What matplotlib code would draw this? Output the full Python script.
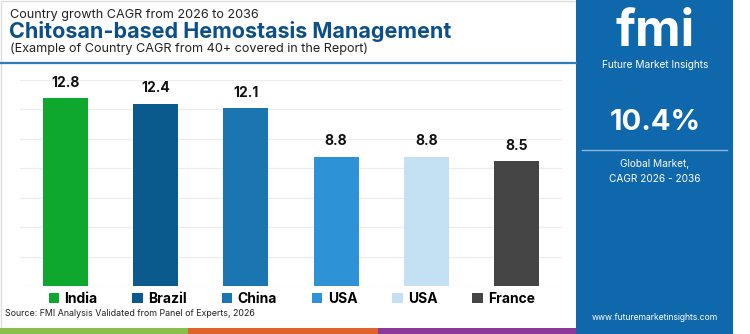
import matplotlib
matplotlib.use("Agg")
import matplotlib.pyplot as plt
from matplotlib.patches import Rectangle
from matplotlib.lines import Line2D

plt.rcParams["font.family"] = ["Inter", "DejaVu Sans"]

paises = ["India", "Brazil", "China", "USA", "USA", "France"]
cagr = [12.8, 12.4, 12.1, 8.8, 8.8, 8.5]
cores = ["#0FA82F", "#0B5A8E", "#1B75B0", "#2E93D6", "#C4E0F3", "#454545"]
ticks_y = [0, 2, 4, 6, 8, 10, 12, 14]

W, H = 750, 334


def fx(px):
    return px / W


def fy(py):
    return 1 - py / H


def fundo(fig):
    # borda clara da area do grafico
    fig.patches.append(Rectangle((fx(1), fy(333)), fx(575), 332 / H, transform=fig.transFigure,
                                 facecolor="white", edgecolor="#DDDDDD", lw=1, zorder=-2))
    # linha azul abaixo do titulo
    fig.add_artist(Line2D([0, fx(576)], [fy(63), fy(63)], color="#2F7DBB", lw=1.6))
    # painel azul da direita
    fig.patches.append(Rectangle((fx(576), 0), fx(157), 1, transform=fig.transFigure,
                                 facecolor="#0F67AC", edgecolor="none", zorder=1))
    # faixa colorida de baixo
    for x0, x1, c in [(0, 188, "#8BBE4B"), (188, 378, "#E0622D"), (378, 576, "#8C3A98")]:
        fig.patches.append(Rectangle((fx(x0), 0), fx(x1 - x0), 6 / H, transform=fig.transFigure,
                                     facecolor=c, edgecolor="none", zorder=2))


def textos(fig):
    fig.text(fx(10), fy(15), "Country growth CAGR from 2026 to 2036", fontsize=9.1,
             color="#222222", va="center")
    fig.text(fx(9), fy(32), "Chitosan-based Hemostasis Management", fontsize=15.5,
             fontweight="bold", color="#0C4F8A", va="center")
    fig.text(fx(10), fy(49), "(Example of Country CAGR from 40+ covered in the Report)",
             fontsize=9.1, color="#222222", va="center")
    fig.text(fx(5), fy(314), "Source: FMI Analysis Validated from Panel of Experts, 2026",
             fontsize=6.4, color="#222222", va="center")

    cx = fx(655)
    fig.text(cx, fy(32), "fmi", fontsize=36, fontweight="bold", color="white",
             ha="center", va="center", zorder=3)
    fig.text(cx, fy(65), "Future Market Insights", fontsize=7.3, color="white",
             ha="center", va="center", zorder=3)
    fig.text(cx, fy(122), "10.4%", fontsize=21, fontweight="bold", color="white",
             ha="center", va="center", zorder=3)
    fig.add_artist(Line2D([fx(582), fx(727)], [fy(150), fy(150)], color="#8DB8DE", lw=1, zorder=3))
    fig.text(cx, fy(164), "Global Market,", fontsize=7.3, color="white",
             ha="center", va="center", zorder=3)
    fig.text(cx, fy(179), "CAGR 2026 - 2036", fontsize=7.3, color="white",
             ha="center", va="center", zorder=3)
    fig.text(cx, fy(318), "www.futuremarketinsights.com", fontsize=6.2, color="white",
             ha="center", va="center", zorder=3)


def grafico_barras(fig):
    ax = fig.add_axes([fx(20), fy(286), fx(542), (286 - 80) / H])
    ax.set_zorder(2)
    ax.set_facecolor("none")
    pos = list(range(len(paises)))
    barras = ax.bar(pos, cagr, width=0.5, color=cores, zorder=3)
    for p, v in zip(pos, cagr):
        ax.text(p, v + 0.55, f"{v}", ha="center", va="bottom", fontsize=10,
                fontweight="bold", color="#111111", clip_on=False)
    ax.set_xlim(-0.5, 5.5)
    ax.set_ylim(0, 14)
    ax.set_yticks(ticks_y)
    ax.yaxis.grid(True, color="#EDEDED", lw=0.9)
    ax.set_xticks([])
    ax.tick_params(axis="y", length=0, labelleft=False)
    for s in ax.spines.values():
        s.set_visible(False)

    fig.legend(barras, paises, loc="center", bbox_to_anchor=(fx(292), fy(299)), ncol=6,
               frameon=False, handlelength=0.75, handleheight=0.75, handletextpad=0.4,
               columnspacing=2.5, prop={"weight": "bold", "size": 10})


def main():
    fig = plt.figure(figsize=(7.5, 3.34), dpi=100)
    fundo(fig)
    grafico_barras(fig)
    textos(fig)
    fig.savefig("out.png", dpi=100)


if __name__ == "__main__":
    main()
